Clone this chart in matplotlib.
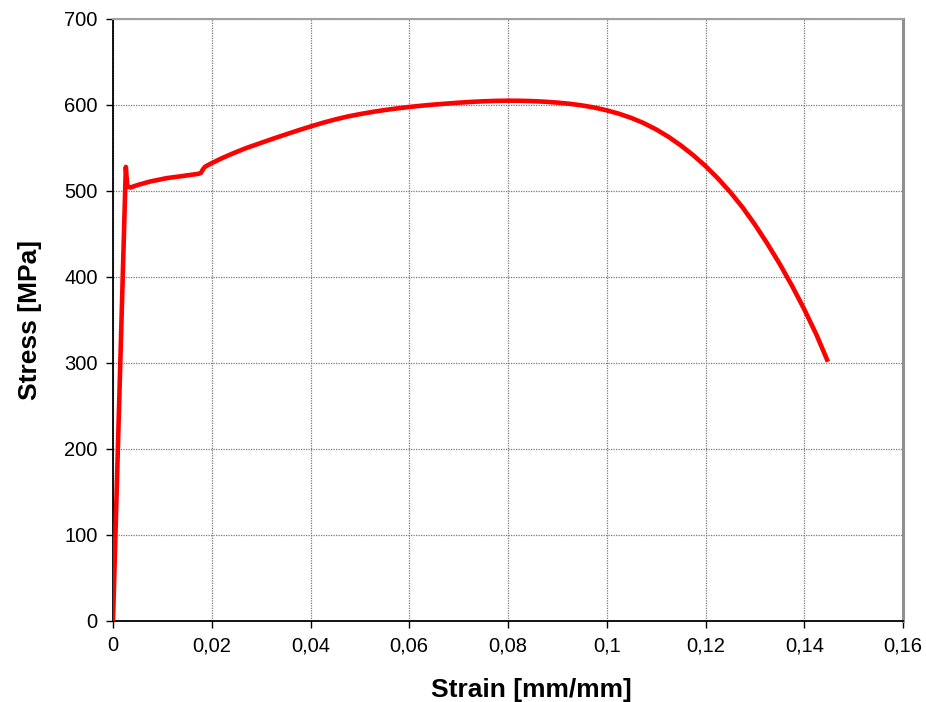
import matplotlib
matplotlib.use("Agg")
import matplotlib.pyplot as plt
from matplotlib.ticker import FixedLocator, FuncFormatter

plt.rcParams['font.family'] = ['Liberation Sans', 'DejaVu Sans']

# Tensile test: engineering strain [mm/mm] and stress [MPa]
strain = [0.0, 0.0013, 0.0026, 0.0027, 0.0029, 0.0035, 0.0050, 0.0075, 0.0109,
          0.0142, 0.0173, 0.0178, 0.0182, 0.0186, 0.0192, 0.0197, 0.0220,
          0.0244, 0.0270, 0.0300, 0.0325, 0.0350, 0.0375, 0.0400, 0.0425,
          0.0450, 0.0475, 0.0500, 0.0525, 0.0550, 0.0575, 0.0600, 0.0625,
          0.0650, 0.0675, 0.0700, 0.0725, 0.0750, 0.0775, 0.0800, 0.0825,
          0.0850, 0.0875, 0.0900, 0.0925, 0.0950, 0.0975, 0.1000, 0.1025,
          0.1050, 0.1075, 0.1100, 0.1125, 0.1150, 0.1175, 0.1200, 0.1225,
          0.1250, 0.1275, 0.1300, 0.1325, 0.1350, 0.1375, 0.1400, 0.1425,
          0.1448]
stress = [0, 264, 528, 520, 506, 504, 507, 511, 515,
          517.5, 520, 521, 525, 528, 530, 531.5, 538,
          544, 550, 556, 561, 565.8, 570.5, 575, 579.3,
          583.2, 586.6, 589.4, 591.9, 594.1, 596.0, 597.7, 599.2,
          600.5, 601.6, 602.7, 603.6, 604.3, 604.8, 605.0, 604.9,
          604.5, 603.8, 602.8, 601.4, 599.5, 597.0, 593.8, 589.8,
          584.9, 578.9, 571.6, 563.0, 553.0, 541.7, 529.0, 514.7,
          498.8, 481.0, 461.0, 439.0, 415.5, 390.0, 362.5, 332.5,
          301.5]

x_ticks = [0, 0.02, 0.04, 0.06, 0.08, 0.10, 0.12, 0.14, 0.16]
y_ticks = [0, 100, 200, 300, 400, 500, 600, 700]

fig = plt.figure(figsize=(9.26, 7.02), dpi=100)
ax = fig.add_axes([113 / 926, 81 / 702, 790 / 926, 602 / 702])

ax.plot(strain, stress, color='#FF0000', lw=3.3, solid_capstyle='butt',
        solid_joinstyle='round', zorder=3)

ax.set_xlim(0, 0.16)
ax.set_ylim(0, 700)
ax.xaxis.set_major_locator(FixedLocator(x_ticks))
ax.yaxis.set_major_locator(FixedLocator(y_ticks))


def comma_fmt(v, pos):
    s = f"{v:.2f}".rstrip('0').rstrip('.')
    return s.replace('.', ',')


ax.xaxis.set_major_formatter(FuncFormatter(comma_fmt))
ax.yaxis.set_major_formatter(FuncFormatter(lambda v, p: f"{int(v)}"))

ax.grid(True, color='#7a7a7a', linestyle=(0, (1, 1)), linewidth=0.9)
ax.set_axisbelow(True)

ax.tick_params(axis='both', direction='out', length=5, width=1.0,
               labelsize=14.5, pad=6, colors='black')

for side in ('left', 'bottom'):
    ax.spines[side].set_color('black')
    ax.spines[side].set_linewidth(1.3)
ax.spines['top'].set_color('#a0a0a0')
ax.spines['top'].set_linewidth(1.5)
ax.spines['right'].set_color('#909090')
ax.spines['right'].set_linewidth(2.2)

ax.set_xlabel('Strain [mm/mm]', fontsize=19, fontweight='bold')
ax.set_ylabel('Stress [MPa]', fontsize=19, fontweight='bold', labelpad=16)
ax.xaxis.set_label_coords(0.53, -0.095)

fig.savefig('out.png', dpi=100)
